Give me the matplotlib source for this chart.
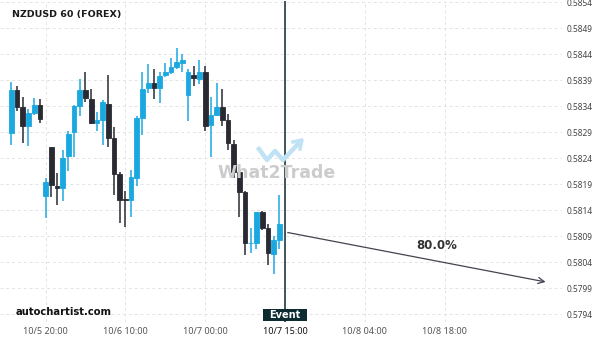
import matplotlib
matplotlib.use("Agg")
import matplotlib.pyplot as plt
from matplotlib.patches import Rectangle

# hourly NZDUSD candles
opens = [0.58288, 0.58371, 0.58339, 0.58301, 0.58327, 0.58343, 0.58168, 0.58262,
         0.58187, 0.58182, 0.58245, 0.58291, 0.58341, 0.58371, 0.58354, 0.58308,
         0.58314, 0.58344, 0.58279, 0.58210, 0.58161, 0.58160, 0.58202, 0.58318,
         0.58374, 0.58385, 0.58374, 0.58399, 0.58405, 0.58416, 0.58422, 0.58362,
         0.58399, 0.58393, 0.58406, 0.58303, 0.58323, 0.58338, 0.58314, 0.58267,
         0.58214, 0.58175, 0.58076, 0.58077, 0.58137, 0.58106, 0.58055, 0.58083]
highs = [0.58386, 0.58379, 0.58357, 0.58334, 0.58356, 0.58354, 0.58202, 0.58262,
         0.58211, 0.58256, 0.58292, 0.58342, 0.58392, 0.58405, 0.58373, 0.58328,
         0.58352, 0.58400, 0.58300, 0.58214, 0.58177, 0.58218, 0.58320, 0.58405,
         0.58421, 0.58411, 0.58405, 0.58423, 0.58432, 0.58452, 0.58440, 0.58411,
         0.58418, 0.58428, 0.58418, 0.58358, 0.58384, 0.58373, 0.58324, 0.58275,
         0.58216, 0.58176, 0.58105, 0.58137, 0.58138, 0.58113, 0.58090, 0.58169]
lows = [0.58265, 0.58330, 0.58269, 0.58264, 0.58323, 0.58307, 0.58125, 0.58165,
        0.58150, 0.58158, 0.58215, 0.58242, 0.58320, 0.58348, 0.58305, 0.58292,
        0.58266, 0.58262, 0.58170, 0.58115, 0.58107, 0.58127, 0.58187, 0.58284,
        0.58365, 0.58353, 0.58346, 0.58396, 0.58402, 0.58411, 0.58405, 0.58312,
        0.58378, 0.58383, 0.58293, 0.58242, 0.58320, 0.58302, 0.58256, 0.58202,
        0.58127, 0.58053, 0.58057, 0.58066, 0.58102, 0.58034, 0.58017, 0.58066]
closes = [0.58371, 0.58339, 0.58301, 0.58327, 0.58343, 0.58316, 0.58194, 0.58189,
          0.58182, 0.58241, 0.58287, 0.58341, 0.58371, 0.58355, 0.58308, 0.58314,
          0.58347, 0.58279, 0.58210, 0.58160, 0.58160, 0.58204, 0.58318, 0.58373,
          0.58385, 0.58374, 0.58398, 0.58405, 0.58416, 0.58424, 0.58429, 0.58406,
          0.58394, 0.58406, 0.58302, 0.58323, 0.58338, 0.58314, 0.58270, 0.58213,
          0.58175, 0.58076, 0.58077, 0.58137, 0.58106, 0.58057, 0.58083, 0.58114]

x_tick_pos = [6, 20, 34, 48, 62, 76]
x_tick_labels = ["10/5 20:00", "10/6 10:00", "10/7 00:00", "10/7 15:00", "10/8 04:00", "10/8 18:00"]
y_ticks = [0.5794, 0.5799, 0.5804, 0.5809, 0.5814, 0.5819, 0.5824, 0.5829,
           0.5834, 0.5839, 0.5844, 0.5849, 0.5854]

event_index = 48
forecast_x = [48, 94.2]
forecast_y = [0.58098, 0.58001]
forecast_label = "80.0%"

UP = "#1ba8e0"
DOWN = "#2a2a33"

fig = plt.figure(figsize=(6, 3.4), dpi=100)
W, H = 600, 340
ax = fig.add_axes([0, 1 - 322 / H, 562 / W, 321 / H])
ax.set_xlim(-2.0, 96.6)
ax.set_ylim(0.57925, 0.58542)
for s in ax.spines.values():
    s.set_visible(False)

ax.set_yticks(y_ticks)
ax.set_yticklabels([f"{v:.4f}" for v in y_ticks])
ax.yaxis.tick_right()
ax.tick_params(axis="y", length=0, pad=3, labelsize=6, labelcolor="#444444")
ax.set_xticks(x_tick_pos)
ax.set_xticklabels(x_tick_labels)
ax.tick_params(axis="x", length=0, pad=3.5, labelsize=6.5, labelcolor="#555555")
for lab in ax.get_xticklabels():
    lab.set_fontfamily("Noto Sans")
    if lab.get_text() == x_tick_labels[x_tick_pos.index(event_index)]:
        lab.set_fontweight("bold")
        lab.set_color("#111111")
for lab in ax.get_yticklabels():
    lab.set_fontfamily("Noto Sans")

ax.grid(True, color="#e3e3e3", lw=0.7, ls=(0, (3, 3)))
ax.set_axisbelow(True)

for i in range(len(opens)):
    o, h, l, c = opens[i], highs[i], lows[i], closes[i]
    col = UP if c >= o else DOWN
    ax.vlines(i, l, h, color=col, lw=1.1, zorder=2)
    ax.bar(i, abs(c - o), bottom=min(o, c), width=0.82, color=col,
           edgecolor=col, linewidth=0.6, zorder=3)

# event line
ax.axvline(event_index, color="#0f2a30", lw=1.1, zorder=4)

# forecast arrow
ax.annotate("", xy=(forecast_x[1], forecast_y[1]), xytext=(forecast_x[0], forecast_y[0]),
            arrowprops=dict(arrowstyle="->", color="#444450", lw=0.9, mutation_scale=11),
            zorder=5)
ax.text((forecast_x[0] + forecast_x[1]) / 2 + 3.5, 0.58073, forecast_label,
        ha="center", va="center", fontsize=8.5, fontweight="bold", color="#333333")

# watermark
wx = [259, 267, 275, 283, 299]
wy = [149, 160, 151, 160, 143]
fig.add_artist(plt.Line2D([x / W for x in wx], [1 - y / H for y in wy],
                          color="#bfe2f4", lw=3.2, transform=fig.transFigure, zorder=1))
fig.add_artist(plt.Line2D([293 / W, 302 / W, 300 / W], [1 - 142 / H, 1 - 140 / H, 1 - 149 / H],
                          color="#bfe2f4", lw=2.5, transform=fig.transFigure, zorder=1))
fig.text(277 / W, 1 - 173 / H, "What2Trade", ha="center", va="center",
         fontsize=12.5, fontweight="bold", color="#cccccc", zorder=1)

# texts
fig.text(12 / W, 1 - 14 / H, "NZDUSD 60 (FOREX)", ha="left", va="center",
         fontsize=6.8, fontweight="bold", color="#1a1a1a")
fig.text(16 / W, 1 - 312 / H, "autochartist.com", ha="left", va="center",
         fontsize=7.2, fontweight="bold", color="#111111")

# event badge
fig.add_artist(Rectangle((263 / W, 1 - 321 / H), 44 / W, 12 / H, transform=fig.transFigure,
                         facecolor="#0c2c32", edgecolor="none", zorder=6))
fig.text(285 / W, 1 - 315 / H, "Event", ha="center", va="center", fontsize=7,
         fontweight="bold", color="white", zorder=7)

fig.savefig("out.png", dpi=100, facecolor="white")
